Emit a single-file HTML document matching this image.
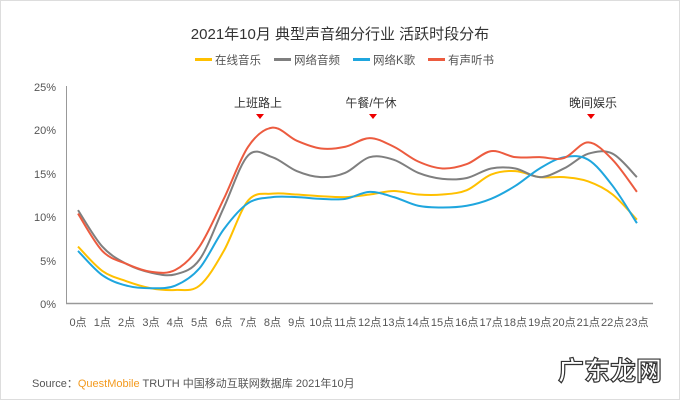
<!DOCTYPE html>
<html><head><meta charset="utf-8"><style>
body{margin:0;background:#fff}
svg text{font-family:"Liberation Sans","Noto Sans CJK SC",sans-serif}
</style></head><body>
<svg id="s" width="680" height="400" xmlns="http://www.w3.org/2000/svg">
<rect x="0.5" y="0.5" width="679" height="399" fill="#fff" stroke="#ddd"/>
<text x="340" y="39" text-anchor="middle" font-size="15" fill="#333">2021年10月 典型声音细分行业 活跃时段分布</text>
<g font-size="11.5" fill="#555">
<rect x="195" y="58" width="17" height="3" fill="#FFC000"/><text x="215" y="64">在线音乐</text>
<rect x="274" y="58" width="17" height="3" fill="#7f7f7f"/><text x="294" y="64">网络音频</text>
<rect x="353" y="58" width="17" height="3" fill="#1fa6de"/><text x="373" y="64">网络K歌</text>
<rect x="428" y="58" width="17" height="3" fill="#ec5b3f"/><text x="448" y="64">有声听书</text>
</g>
<g font-size="11" fill="#555" text-anchor="end">
<text x="56" y="91">25%</text><text x="56" y="134">20%</text><text x="56" y="178">15%</text><text x="56" y="221">10%</text><text x="56" y="265">5%</text><text x="56" y="308">0%</text>
</g>
<line x1="66.5" y1="86" x2="66.5" y2="303" stroke="#999"/>
<line x1="66" y1="303.5" x2="653" y2="303.5" stroke="#999" stroke-width="1.5"/>
<g font-size="12" fill="#333" text-anchor="middle">
<text x="258" y="107">上班路上</text><text x="371" y="107">午餐/午休</text><text x="593" y="107">晚间娱乐</text>
</g>
<g fill="#e00"><path d="M256 114h8l-4 5z"/><path d="M369 114h8l-4 5z"/><path d="M587 114h8l-4 5z"/></g>
<g id="xl" font-size="11" fill="#555" text-anchor="middle"></g>
<g id="ln" fill="none" stroke-width="2"></g>
<text x="32" y="387" font-size="11" fill="#555">Source：<tspan fill="#f39a1e">QuestMobile</tspan> TRUTH 中国移动互联网数据库 2021年10月</text>
<text x="610" y="380" font-size="26" fill="#fff" stroke="#333" stroke-width="1.2" text-anchor="middle" font-weight="bold">广东龙网</text>
</svg>
<script>
const X=i=>78+24.3*i, Y=v=>303-v*8.68;
const d={
"#FFC000":[6.5,3.7,2.5,1.7,1.5,2,6,11.8,12.6,12.5,12.3,12.2,12.5,12.9,12.5,12.5,13,14.8,15.2,14.5,14.5,14,12.5,9.6],
"#7f7f7f":[10.7,6.5,4.5,3.5,3.3,5,11,17,16.8,15.2,14.5,15,16.8,16.5,15,14.3,14.4,15.5,15.5,14.5,15.5,17.2,17.2,14.5],
"#1fa6de":[6,3.2,2,1.7,2,4,8.5,11.5,12.2,12.2,12,12,12.8,12.2,11.2,11,11.2,12,13.5,15.5,16.8,16.5,13.5,9.2],
"#ec5b3f":[10.3,6,4.5,3.6,3.8,6.5,12,18,20.2,18.7,17.8,18,19,18,16.3,15.5,16,17.5,16.8,16.8,16.7,18.5,16.5,12.8]};
let h="";
for(const c in d){const p=d[c].map((v,i)=>[X(i),Y(v)]);let s=`M${p[0]}`;
for(let i=0;i<p.length-1;i++){const a=p[i-1]||p[i],b=p[i],e=p[i+1],f=p[i+2]||e;
s+=`C${b[0]+(e[0]-a[0])/6},${b[1]+(e[1]-a[1])/6} ${e[0]-(f[0]-b[0])/6},${e[1]-(f[1]-b[1])/6} ${e[0]},${e[1]}`;}
h+=`<path d="${s}" stroke="${c}"/>`;}
document.getElementById("ln").innerHTML=h;
let t="";for(let i=0;i<24;i++)t+=`<text x="${X(i)}" y="326">${i}点</text>`;
document.getElementById("xl").innerHTML=t;
</script>
</body></html>
